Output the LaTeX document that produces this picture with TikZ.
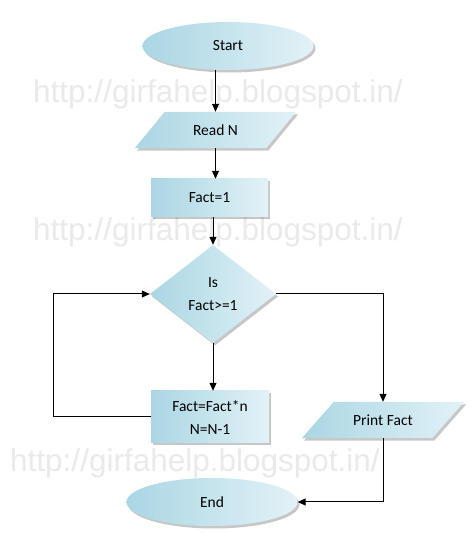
\documentclass[tikz,border=0pt]{standalone}
\usepackage{fontspec}
\setmainfont{Carlito}
\newfontfamily\wmfont{Liberation Sans}
\usetikzlibrary{shapes.geometric,shadows,arrows.meta,calc}
\definecolor{fillL}{RGB}{170,214,227}
\definecolor{fillR}{RGB}{226,242,247}
\definecolor{wmgray}{RGB}{234,234,234}
\pgfdeclarelayer{back}
\pgfsetlayers{back,main}
\begin{document}
\begin{tikzpicture}[x=1pt,y=1pt,
  every node/.style={inner sep=0pt,font=\fontsize{15.5}{23}\selectfont},
  blob/.style={left color=fillL,right color=fillR,draw=none,
    drop shadow={shadow xshift=2pt,shadow yshift=-2.5pt,fill=black,opacity=0.22}},
  term/.style={blob,ellipse,minimum width=171pt,minimum height=48pt},
  io/.style={rectangle,minimum width=131pt,minimum height=36pt},
  proc/.style={blob,rectangle,align=center},
  dec/.style={blob,diamond,minimum width=126pt,minimum height=98pt,align=center},
  wm/.style={anchor=base west,text=wmgray,font=\wmfont\fontsize{31.5}{34}\selectfont},
  conn/.style={line width=1pt,-{Triangle[length=8pt,width=7pt]}}]
\begin{pgfonlayer}{back}
\fill[white] (0,0) rectangle (474,533);
\node[wm] (wm1) at (33,430) {http://girfahelp.blogspot.in/};
\node[wm] (wm2) at (33,292) {http://girfahelp.blogspot.in/};
\node[wm] (wm3) at (10,61) {http://girfahelp.blogspot.in/};
\end{pgfonlayer}
\useasboundingbox (0,0) rectangle (474,533);

\node[term] (start) at (228,487) {Start};
\node[io] (readn) at (215.5,403) {Read N};
\node[proc,minimum width=117pt,minimum height=38pt] (fact1) at (209.5,335) {Fact=1};
\node[dec] (cond) at (213,239) {Is\\Fact>=1};
\node[proc,minimum width=118pt,minimum height=52pt] (body) at (210,116) {Fact=Fact*n\\N=N-1};
\node[io,minimum width=130pt] (print) at (383,113) {Print Fact};
\node[term] (end) at (212,31) {End};
\coordinate (loopl) at (53,0);

\begin{pgfonlayer}{back}
\path[blob] ($(readn.south west)+(-15,0)$) -- ($(readn.south east)+(-15,0)$)
  -- ($(readn.north east)+(15,0)$) -- ($(readn.north west)+(15,0)$) -- cycle;
\path[blob] ($(print.south west)+(-16,0)$) -- ($(print.south east)+(-16,0)$)
  -- ($(print.north east)+(16,0)$) -- ($(print.north west)+(16,0)$) -- cycle;
\end{pgfonlayer}

\draw[conn] (readn.north |- start.south) -- (readn.north);
\draw[conn] (readn.south) -- (readn.south |- fact1.north);
\draw[conn] (cond.north |- fact1.south) -- (cond.north);
\draw[conn] (cond.south) -- (cond.south |- body.north);
\draw[conn] (body.west) -- (body.west -| loopl) |- (cond.west);
\draw[conn] (cond.east) -| (print.north);
\draw[conn] (print.south) |- (end.east);
\end{tikzpicture}
\end{document}
